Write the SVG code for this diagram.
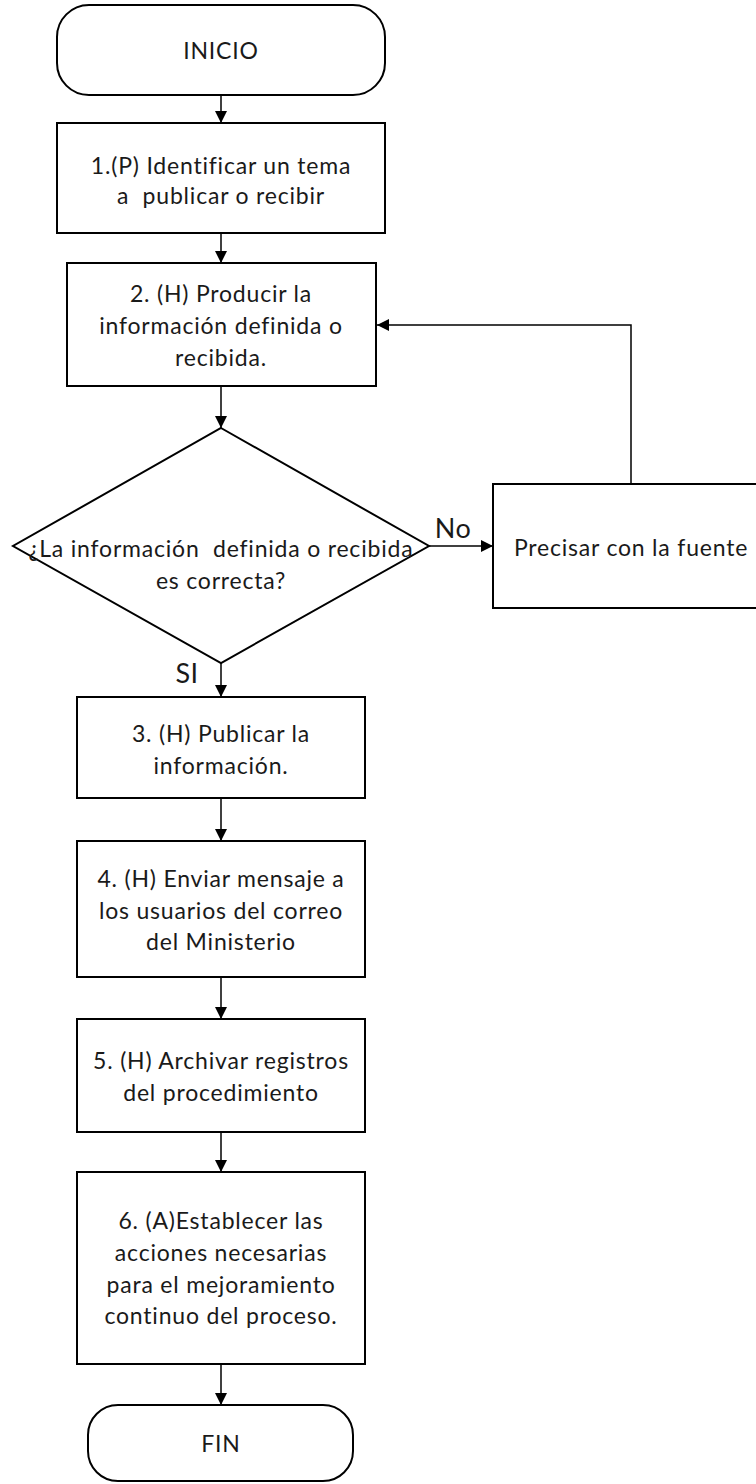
<svg xmlns="http://www.w3.org/2000/svg" width="756" height="1484" viewBox="0 0 756 1484">
  <defs>
    <marker id="arr" markerWidth="12" markerHeight="12" viewBox="0 0 12 12" refX="12" refY="6" orient="auto" markerUnits="userSpaceOnUse">
      <path d="M0,0 L12,6 L0,12 Z" fill="#000"/>
    </marker>
    <style>
      .shape { fill: #fff; stroke: #000; stroke-width: 2; }
      .conn { fill: none; stroke: #000; stroke-width: 1.5; }
      .t { font-family: Lato, "Open Sans", "Liberation Sans", sans-serif; font-size: 23px; letter-spacing: 0.8px; fill: #1a1a1a; text-anchor: middle; dominant-baseline: central; }
      .lbl { font-family: Lato, "Open Sans", "Liberation Sans", sans-serif; font-size: 27px; letter-spacing: 0.5px; fill: #1a1a1a; text-anchor: middle; dominant-baseline: central; }
    </style>
  </defs>
  <rect width="756" height="1484" fill="#fff"/>

  <g id="connectors">
    <line class="conn" x1="221" y1="95" x2="221" y2="123" marker-end="url(#arr)"/>
    <line class="conn" x1="221" y1="233" x2="221" y2="263" marker-end="url(#arr)"/>
    <line class="conn" x1="221" y1="386" x2="221" y2="428" marker-end="url(#arr)"/>
    <line class="conn" x1="221" y1="663" x2="221" y2="697" marker-end="url(#arr)"/>
    <line class="conn" x1="429" y1="546" x2="493" y2="546" marker-end="url(#arr)"/>
    <polyline class="conn" points="631,484 631,325 377,325" marker-end="url(#arr)"/>
    <line class="conn" x1="221" y1="798" x2="221" y2="841" marker-end="url(#arr)"/>
    <line class="conn" x1="221" y1="977" x2="221" y2="1019" marker-end="url(#arr)"/>
    <line class="conn" x1="221" y1="1132" x2="221" y2="1172" marker-end="url(#arr)"/>
    <line class="conn" x1="221" y1="1364" x2="221" y2="1405" marker-end="url(#arr)"/>
    <text class="lbl" x="453" y="527">No</text>
    <text class="lbl" x="187" y="672">SI</text>
  </g>

  <g id="inicio">
    <rect class="shape" x="57" y="5" width="328" height="90" rx="32" ry="32"/>
    <text class="t" x="221" y="50">INICIO</text>
  </g>

  <g id="paso1">
    <rect class="shape" x="57" y="123" width="328" height="110"/>
    <text class="t" x="221" y="165">1.(P) Identificar un tema</text>
    <text class="t" x="221" y="195" xml:space="preserve">a  publicar o recibir</text>
  </g>

  <g id="paso2">
    <rect class="shape" x="67" y="263" width="309" height="123"/>
    <text class="t" x="221" y="293">2. (H) Producir la</text>
    <text class="t" x="221" y="325">información definida o</text>
    <text class="t" x="221" y="357">recibida.</text>
  </g>

  <g id="decision">
    <polygon class="shape" points="221,428 429,546 221,663 13,546"/>
    <text class="t" x="221" y="548" xml:space="preserve">¿La información  definida o recibida</text>
    <text class="t" x="221" y="580">es correcta?</text>
  </g>

  <g id="precisar">
    <rect class="shape" x="493" y="484" width="270" height="124"/>
    <text class="t" x="631" y="547">Precisar con la fuente</text>
  </g>

  <g id="paso3">
    <rect class="shape" x="77" y="697" width="288" height="101"/>
    <text class="t" x="221" y="733">3. (H) Publicar la</text>
    <text class="t" x="221" y="765">información.</text>
  </g>

  <g id="paso4">
    <rect class="shape" x="77" y="841" width="288" height="136"/>
    <text class="t" x="221" y="878">4. (H) Enviar mensaje a</text>
    <text class="t" x="221" y="910">los usuarios del correo</text>
    <text class="t" x="221" y="941">del Ministerio</text>
  </g>

  <g id="paso5">
    <rect class="shape" x="77" y="1019" width="288" height="113"/>
    <text class="t" x="221" y="1060">5. (H) Archivar registros</text>
    <text class="t" x="221" y="1092">del procedimiento</text>
  </g>

  <g id="paso6">
    <rect class="shape" x="77" y="1172" width="288" height="192"/>
    <text class="t" x="221" y="1220">6. (A)Establecer las</text>
    <text class="t" x="221" y="1252">acciones necesarias</text>
    <text class="t" x="221" y="1284">para el mejoramiento</text>
    <text class="t" x="221" y="1315">continuo del proceso.</text>
  </g>

  <g id="fin">
    <rect class="shape" x="88" y="1405" width="265" height="76" rx="30" ry="30"/>
    <text class="t" x="221" y="1443">FIN</text>
  </g>
</svg>
